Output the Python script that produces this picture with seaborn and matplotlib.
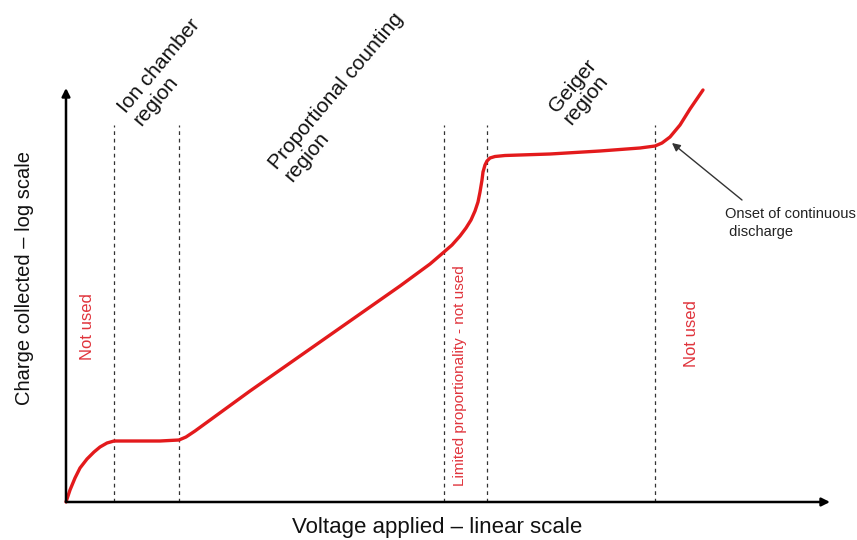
import numpy as np
import pandas as pd
from matplotlib import pyplot as plt
import seaborn as sns

# Voltage (arbitrary linear units) vs charge collected (arbitrary log units),
# read off the reference picture
voltage = [0, 4, 9, 14, 21, 28, 34, 41, 48, 74, 94, 113, 120, 129, 184, 234,
           284, 334, 364, 378, 386, 394, 400, 405, 409, 412, 414, 416, 417,
           419, 421, 424, 429, 439, 484, 534, 574, 589, 596, 604, 614, 624,
           637]
charge = [0, 12, 24, 34, 43, 50, 55, 59, 61, 61, 61, 62, 65, 71, 111, 146,
          181, 216, 238, 250, 257, 266, 274, 282, 291, 300, 310, 322, 330,
          337, 341, 344, 345.5, 346.5, 348, 351, 354, 356, 359, 365, 377,
          393, 412]

# Region boundaries (voltage)
boundaries = [48, 113, 378, 421, 589]

region_labels = ["Ion chamber\nregion", "Proportional counting\nregion",
                 "Geiger\nregion"]
region_pos = [(101, 430), (278, 405), (514, 410)]

unused_labels = ["Not used", "Limited proportionality - not used", "Not used"]
unused_pos = [(22, 175), (394, 126), (626, 168)]

df = pd.DataFrame({"voltage": voltage, "charge": charge})

sns.set_style("white")
plt.rcParams['font.family'] = ['Liberation Sans', 'DejaVu Sans']

fig = plt.figure(figsize=(8.57, 5.4), dpi=100)
ax = fig.add_axes([0, 0, 1, 1])
ax.set_xlim(-66, 791)
ax.set_ylim(-38, 502)
ax.axis('off')

red = '#e31a1c'

# axes with arrows
ax.annotate("", xy=(0, 414), xytext=(0, 0),
            arrowprops=dict(arrowstyle="-|>", lw=1.8, color='black',
                            mutation_scale=12, shrinkA=0, shrinkB=0))
ax.annotate("", xy=(764, 0), xytext=(0, 0),
            arrowprops=dict(arrowstyle="-|>", lw=1.8, color='black',
                            mutation_scale=12, shrinkA=0, shrinkB=0))

# dashed region boundaries
ax.vlines(boundaries, 0, 377, colors='#333333', linestyles=(0, (3, 3)),
          linewidth=0.9)

# the curve
sns.lineplot(data=df, x="voltage", y="charge", sort=False, color=red,
             linewidth=2.4, ax=ax)
ax.set_xlabel('')
ax.set_ylabel('')

for label, (x, y) in zip(region_labels, region_pos):
    ax.text(x, y, label, rotation=50, rotation_mode='anchor', ha='center',
            va='center', multialignment='left', fontsize=15,
            linespacing=1.05, color='#111111')

for label, (x, y), size in zip(unused_labels, unused_pos, [12, 11, 12]):
    ax.text(x, y, label, rotation=90, ha='center', va='center',
            fontsize=size, color='#e0343c')

# onset annotation
ax.text(659, 295, "Onset of continuous\n discharge", ha='left', va='top',
        fontsize=10.5, color='#222222', linespacing=1.35)
ax.annotate("", xy=(606, 359), xytext=(676, 302),
            arrowprops=dict(arrowstyle="-|>", lw=1.0, color='#333333',
                            mutation_scale=12, shrinkA=0, shrinkB=0))

# axis titles
ax.text(371, -26, "Voltage applied \u2013 linear scale", ha='center',
        va='center', fontsize=16, color='#111111')
ax.text(-41, 224, "Charge collected \u2013 log scale", ha='center',
        va='center', rotation=90, fontsize=14.5, color='#111111')

plt.savefig('out.png', dpi=100)
